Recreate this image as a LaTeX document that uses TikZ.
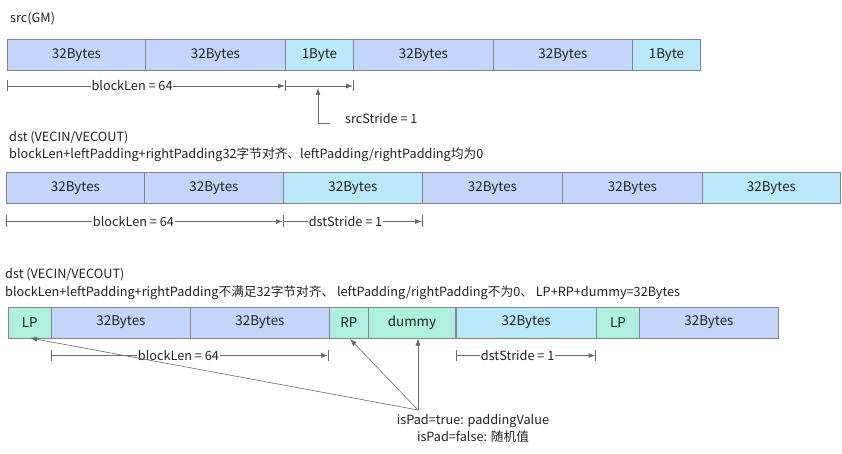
\documentclass[tikz,border=0pt]{standalone}
\usepackage{fontspec}
\setmainfont{Noto Sans CJK SC}
\usetikzlibrary{arrows.meta}
\definecolor{cblue}{HTML}{C4D5FB}
\definecolor{ccyan}{HTML}{B8E8FA}
\definecolor{cgreen}{HTML}{AEEFE0}
\definecolor{cborder}{HTML}{858585}
\definecolor{cline}{HTML}{666A70}
\definecolor{ctext}{HTML}{222222}
\tikzset{
  cellbox/.style={draw=cborder, line width=0.9pt, anchor=north west, inner sep=0pt,
    minimum height=31pt, text=ctext, font=\fontsize{13.4}{15}\selectfont},
  bluecell/.style={cellbox, fill=cblue},
  cyancell/.style={cellbox, fill=ccyan},
  greencell/.style={cellbox, fill=cgreen},
  dimline/.style={draw=cline, line width=0.8pt, -{Latex[length=7pt,width=5pt]}},
  tickline/.style={draw=cline, line width=0.8pt},
  dimlabel/.style={fill=white, inner sep=0.8pt, text=ctext, font=\fontsize{12.7}{14}\selectfont},
  heading/.style={anchor=west, inner sep=0pt, text=ctext, font=\fontsize{12.7}{14}\selectfont},
  pointer/.style={draw=cline, line width=0.6pt, -{Latex[length=7pt,width=5pt]}},
}
\begin{document}
\begin{tikzpicture}[x=1pt,y=-1pt]
\useasboundingbox[fill=white] (0,0) rectangle (842,454);

% ---------- Row 1 : src ----------
\node[heading] (h1) at (10,19) {src(GM)};
\node[bluecell, minimum width=138pt] (a1) at (7,39) {32Bytes};
\node[bluecell, minimum width=140pt] (a2) at (145,39) {32Bytes};
\node[cyancell, minimum width=68pt] (a3) at (285,39) {1Byte};
\node[bluecell, minimum width=140pt] (a4) at (353,39) {32Bytes};
\node[bluecell, minimum width=139pt] (a5) at (493,39) {32Bytes};
\node[cyancell, minimum width=68pt] (a6) at (632,39) {1Byte};

\coordinate (t1a) at (7,86);
\coordinate (t1b) at (285,86);
\coordinate (t1c) at (353,86);
\draw[tickline] ([yshift=-5pt]t1a) -- ([yshift=6pt]t1a);
\draw[tickline] ([yshift=-5pt]t1b) -- ([yshift=6pt]t1b);
\draw[tickline] ([yshift=-5pt]t1c) -- ([yshift=6pt]t1c);
\draw[dimline] (t1a) -- (t1b) node[dimlabel, pos=0.45] (l1) {blockLen = 64};
\draw[dimline] (t1b) -- (t1c);
\coordinate (s1) at (318,88);
\coordinate (s2) at (318,123);
\node[heading] (ss) at (345,119) {srcStride = 1};
\draw[tickline] (330,123) -- (s2);
\draw[pointer] (s2) -- (s1);

% ---------- Row 2 : dst aligned ----------
\node[heading] (h2a) at (9,138) {dst (VECIN/VECOUT)};
\node[heading] (h2b) at (9,155) {blockLen+leftPadding+rightPadding32字节对齐、leftPadding/rightPadding均为0};
\node[bluecell, minimum width=138pt] (b1) at (6,172.5) {32Bytes};
\node[bluecell, minimum width=139pt] (b2) at (144,172.5) {32Bytes};
\node[cyancell, minimum width=139pt] (b3) at (283,172.5) {32Bytes};
\node[bluecell, minimum width=140pt] (b4) at (422,172.5) {32Bytes};
\node[bluecell, minimum width=140pt] (b5) at (562,172.5) {32Bytes};
\node[cyancell, minimum width=138pt] (b6) at (702,172.5) {32Bytes};

\coordinate (t2a) at (6,221.5);
\coordinate (t2b) at (283,221.5);
\coordinate (t2c) at (422,221.5);
\draw[tickline] ([yshift=-5pt]t2a) -- ([yshift=6pt]t2a);
\draw[tickline] ([yshift=-5pt]t2b) -- ([yshift=6pt]t2b);
\draw[tickline] ([yshift=-5pt]t2c) -- ([yshift=6pt]t2c);
\draw[dimline] (t2a) -- (t2b) node[dimlabel, pos=0.46] (l2) {blockLen = 64};
\draw[dimline] (t2b) -- (t2c) node[dimlabel, pos=0.45] (l3) {dstStride = 1};

% ---------- Row 3 : dst unaligned ----------
\node[heading] (h3a) at (5,275) {dst (VECIN/VECOUT)};
\node[heading] (h3b) at (5,292.5) {blockLen+leftPadding+rightPadding不满足32字节对齐、 leftPadding/rightPadding不为0、 LP+RP+dummy=32Bytes};
\node[greencell, minimum width=43.5pt] (c1) at (7.5,306.5) {LP};
\node[bluecell, minimum width=139pt] (c2) at (51,306.5) {32Bytes};
\node[bluecell, minimum width=139pt] (c3) at (190,306.5) {32Bytes};
\node[greencell, minimum width=39pt] (c4) at (329,306.5) {RP};
\node[greencell, minimum width=87pt] (c5) at (368,306.5) {dummy};
\node[cyancell, minimum width=140.5pt] (c6) at (455.5,306.5) {32Bytes};
\node[greencell, minimum width=43pt] (c7) at (596,306.5) {LP};
\node[bluecell, minimum width=139pt] (c8) at (639,306.5) {32Bytes};

\coordinate (t3a) at (51,355.5);
\coordinate (t3b) at (328,355.5);
\coordinate (t3c) at (456.5,355.5);
\coordinate (t3d) at (595.5,355.5);
\draw[tickline] ([yshift=-5pt]t3a) -- ([yshift=6pt]t3a);
\draw[tickline] ([yshift=-5pt]t3b) -- ([yshift=6pt]t3b);
\draw[tickline] ([yshift=-5pt]t3c) -- ([yshift=6pt]t3c);
\draw[tickline] ([yshift=-5pt]t3d) -- ([yshift=6pt]t3d);
\draw[dimline] (t3a) -- (t3b) node[dimlabel, pos=0.46] (l4) {blockLen = 64};
\draw[dimline] (t3c) -- (t3d) node[dimlabel, pos=0.44] (l5) {dstStride = 1};

\coordinate (p0) at (418,410);
\coordinate (pLP) at (30,338);
\coordinate (pRP) at (350,339);
\coordinate (pD) at (418,338.5);
\draw[pointer] (p0) -- (pLP);
\draw[pointer] (p0) -- (pRP);
\draw[pointer] (p0) -- (pD);

\node[text=ctext, font=\fontsize{12.7}{17.5}\selectfont, align=center, inner sep=0pt, anchor=north] (pad) at (473,414)
  {isPad=true: paddingValue\\isPad=false: 随机值};
\end{tikzpicture}
\end{document}
